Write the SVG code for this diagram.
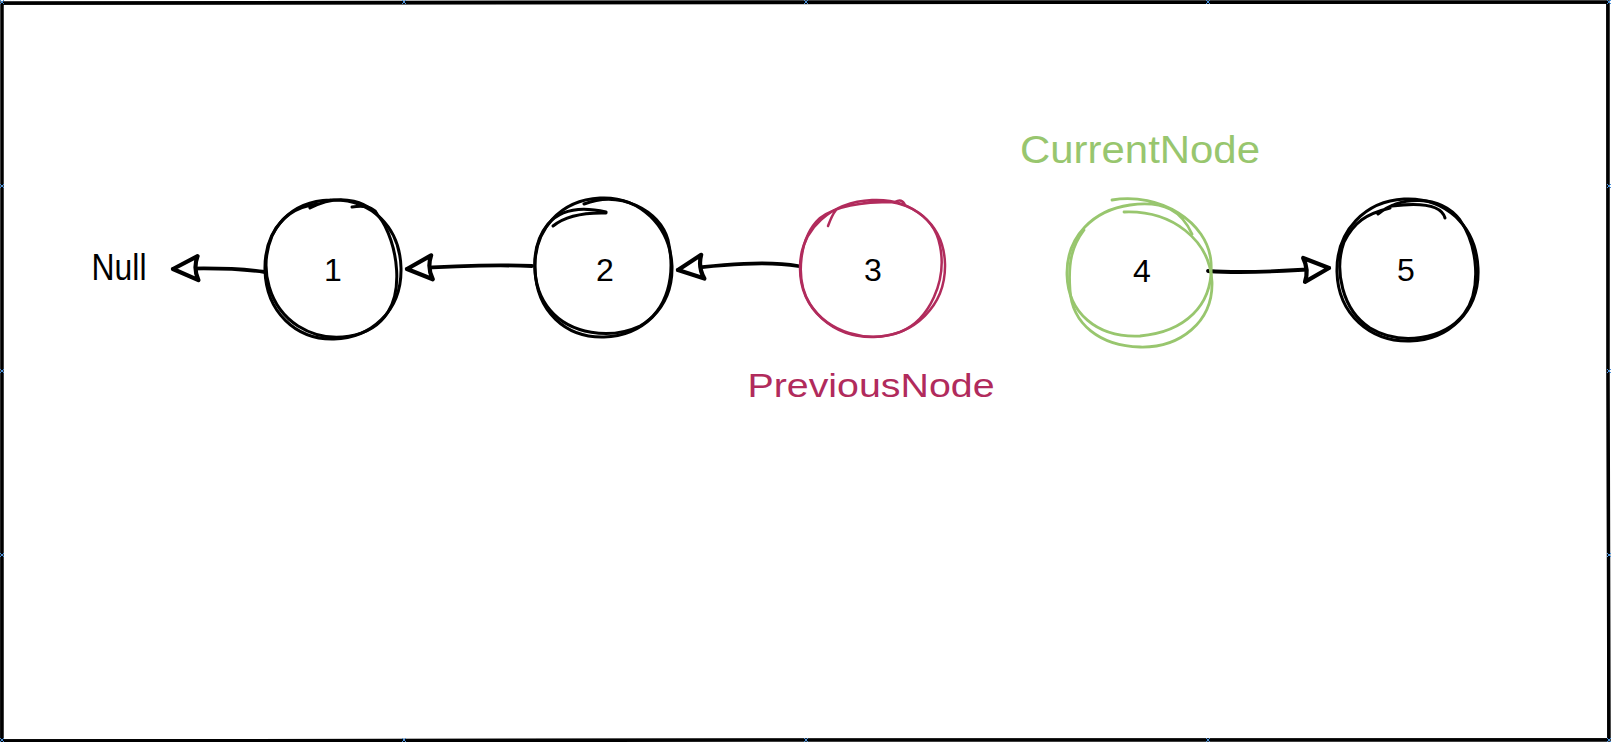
<svg xmlns="http://www.w3.org/2000/svg" width="1611" height="742" viewBox="0 0 1611 742">
<style>
.bk{fill:none;stroke:#000;stroke-width:3;stroke-linecap:round;stroke-linejoin:round}
.rd{fill:none;stroke:#b12b5c;stroke-width:2.5;stroke-linecap:round}
.gr{fill:none;stroke:#98c66e;stroke-width:2.8;stroke-linecap:round}
.num{font-family:"Liberation Sans",Arial,sans-serif;font-size:32px;fill:#000;text-anchor:middle}
.lbl{font-family:"Liberation Sans",Arial,sans-serif;text-anchor:middle}
.conn{fill:none;stroke:#000;stroke-width:3.8;stroke-linecap:round}
.mk{fill:none;stroke:#4a90d9;stroke-width:1}
</style>
<defs>
<marker id="ah" viewBox="0 0 32 30" refX="29" refY="15" markerWidth="32" markerHeight="30" markerUnits="userSpaceOnUse" orient="auto">
<path d="M29,15 L4,3 Q9,15 4,27 Z" fill="#fff" stroke="#000" stroke-width="4.2" stroke-linejoin="round"/>
</marker>
</defs>
<rect width="1611" height="742" fill="#fff"/>
<g id="frame">
<path d="M2,3 L805,2 L1608,2 L1608,370 L1609,740 L805,740 L2,741 L2,370 Z" fill="none" stroke="#000" stroke-width="3.5"/>
<path d="M1,4 L1607,3 M1607,1 L1608,741 M1609,739 L3,740 M1,741 L2,2" fill="none" stroke="#000" stroke-width="1.5"/>
</g>
<g id="markers">
<path class="mk" d="M0,0 l4,4 m0,-4 l-4,4 M402,0 l4,4 m0,-4 l-4,4 M804,0 l4,4 m0,-4 l-4,4 M1206,0 l4,4 m0,-4 l-4,4 M1607,0 l4,4 m0,-4 l-4,4"/>
<path class="mk" d="M0,738 l4,4 m0,-4 l-4,4 M402,738 l4,4 m0,-4 l-4,4 M804,738 l4,4 m0,-4 l-4,4 M1206,738 l4,4 m0,-4 l-4,4 M1607,738 l4,4 m0,-4 l-4,4"/>
<path class="mk" d="M0,184 l4,4 m0,-4 l-4,4 M0,369 l4,4 m0,-4 l-4,4 M0,553 l4,4 m0,-4 l-4,4 M1607,184 l4,4 m0,-4 l-4,4 M1607,369 l4,4 m0,-4 l-4,4 M1607,553 l4,4 m0,-4 l-4,4"/>
</g>
<g id="connectors">
<path class="conn" d="M265,272 Q230,267 173,269" marker-end="url(#ah)"/>
<path class="conn" d="M532,266 Q480,264 407,269" marker-end="url(#ah)"/>
<path class="conn" d="M798,266 Q760,259 678,270" marker-end="url(#ah)"/>
<path class="conn" d="M1208,271 Q1250,274 1329,268" marker-end="url(#ah)"/>
</g>
<g id="null">
<text class="lbl" x="119" y="280" font-size="37" textLength="55" lengthAdjust="spacingAndGlyphs">Null</text>
</g>
<g id="node1">
<path class="bk" d="M330,200 C372,198 400,228 401,268 C402,312 370,338 334,339 C296,340 266,312 265,270 C264,228 292,201 330,200"/>
<path class="bk" d="M310,208 C340,192 372,200 385,226 C398,252 402,290 388,312 C372,338 330,346 298,326 C270,308 258,270 272,236 C282,214 300,206 318,204"/>
<path class="bk" d="M352,207 Q372,204 377,214"/>
<text class="num" x="333" y="281">1</text>
</g>
<g id="node2">
<path class="bk" d="M600,198 C640,196 670,226 672,266 C673,310 640,336 604,337 C566,338 536,312 535,268 C534,230 560,200 600,198"/>
<path class="bk" d="M584,204 C620,190 660,210 668,240 C676,275 668,310 640,326 C610,340 570,334 550,310 C530,286 530,246 548,224 C560,210 580,206 606,212"/>
<path class="bk" d="M553,226 Q570,212 606,213"/>
<text class="num" x="605" y="281">2</text>
</g>
<g id="node3">
<path class="rd" d="M872,200 C912,198 944,224 945,264 C946,306 914,336 874,337 C834,338 800,310 800,268 C800,228 832,202 872,200"/>
<path class="rd" d="M860,204 C900,194 934,214 940,246 C947,280 930,320 900,332 C866,344 828,332 810,304 C794,278 800,236 820,218 C836,206 860,202 895,202 Q902,198 905,205"/>
<path class="rd" d="M828,226 Q832,215 836,210"/>
<text class="num" x="873" y="281">3</text>
</g>
<g id="node4">
<path class="gr" d="M1112,200 C1160,192 1208,222 1211,262 C1214,306 1184,332 1140,336 C1096,338 1068,312 1067,275 C1066,236 1094,210 1130,205 C1165,200 1182,212 1192,234"/>
<path class="gr" d="M1124,212 C1172,210 1210,240 1212,282 C1213,322 1180,348 1140,347 C1100,346 1072,324 1070,290 C1068,262 1072,246 1084,230"/>
<text class="num" x="1142" y="282">4</text>
</g>
<g id="node5">
<path class="bk" d="M1404,199 C1446,197 1476,226 1478,268 C1480,312 1448,340 1410,341 C1370,342 1338,314 1337,272 C1336,230 1366,201 1404,199"/>
<path class="bk" d="M1378,214 C1400,196 1440,194 1460,220 C1478,246 1482,290 1464,314 C1444,340 1400,346 1370,328 C1342,310 1334,270 1344,242 C1354,222 1366,214 1390,208"/>
<path class="bk" d="M1392,206 Q1440,200 1445,218"/>
<text class="num" x="1406" y="281">5</text>
</g>
<g id="labels">
<text class="lbl" x="1140" y="163" font-size="38" fill="#98c66e" textLength="240" lengthAdjust="spacingAndGlyphs">CurrentNode</text>
<text class="lbl" x="871" y="397" font-size="34" fill="#b12b5c" textLength="247" lengthAdjust="spacingAndGlyphs">PreviousNode</text>
</g>
</svg>
